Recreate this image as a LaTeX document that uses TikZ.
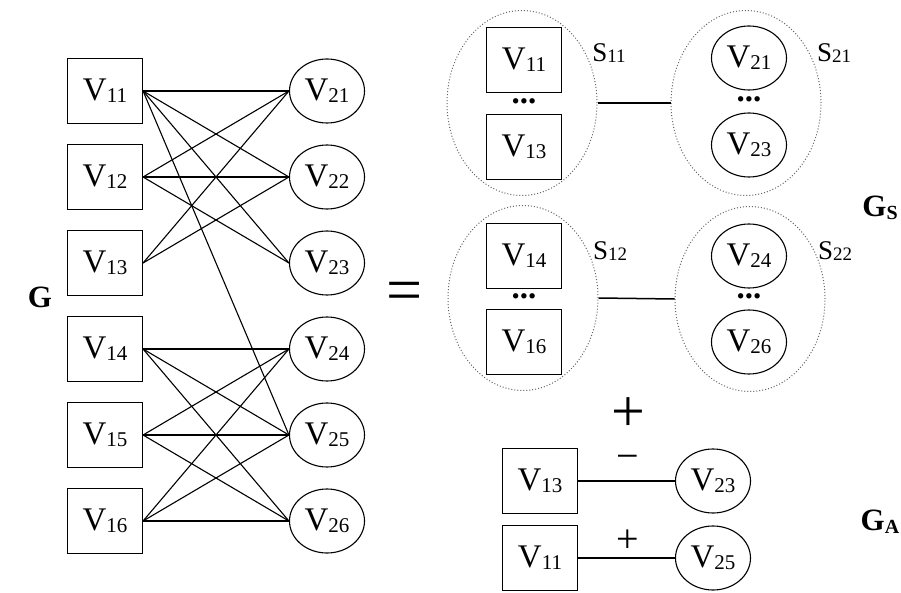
\documentclass[tikz,border=0pt]{standalone}
\usepackage{fontspec}
\setmainfont{Liberation Serif}
\usetikzlibrary{shapes.geometric}
\newcommand{\vsz}{\fontsize{33}{34}\selectfont}
\newcommand{\vl}[2]{#1\raisebox{-2pt}{\fontsize{21}{21}\selectfont #2}}
\newcommand{\slab}[2]{{\fontsize{27}{28}\selectfont #1\raisebox{-1pt}{\fontsize{19}{19}\selectfont #2}}}
\newcommand{\glab}[2]{{\bfseries\fontsize{31}{31}\selectfont #1\raisebox{-3pt}{\fontsize{20}{20}\selectfont #2}}}
\tikzset{
  vbox/.style={draw, rectangle, minimum width=75pt, minimum height=65pt, inner sep=0pt, line width=1.1pt, font=\vsz},
  vell/.style={draw, ellipse, minimum width=75pt, minimum height=64pt, inner sep=0pt, line width=1.1pt, font=\vsz},
  grp/.style={draw=black!60, dotted, ellipse, minimum width=150pt, minimum height=185pt, inner sep=0pt, line width=1pt},
  edge/.style={line width=1.1pt},
  link/.style={line width=1.5pt},
  dotsn/.style={font=\vsz\bfseries, inner sep=0pt},
  sym/.style={inner sep=0pt}
}
\begin{document}
\begin{tikzpicture}[x=1pt,y=-1pt]
\useasboundingbox (0,0) rectangle (901,593);
% left graph
\foreach \i/\y in {1/91,2/177,3/263,4/349,5/435,6/521} {
  \node[vbox] (L\i) at (105,\y) {\vl{V}{1\i}};
  \node[vell] (R\i) at (327,\y) {\vl{V}{2\i}};
}
\foreach \a/\b in {1/1,1/2,1/3,1/5,2/1,2/2,2/3,3/1,3/2,4/4,4/5,4/6,5/4,5/5,5/6,6/4,6/5,6/6}
  \draw[edge] (L\a.east) -- (R\b.west);
\node (G) at (40,299) {\glab{G}{}};
\node[sym, font=\fontsize{64}{64}\selectfont] (eq) at (405,297) {=};
% G_S first row
\node[grp] (S11) at (522,103) {};
\node[vbox] (A11) at (524,60) {\vl{V}{11}};
\node[dotsn] (d1) at (524,101) {...};
\node[vbox] (A13) at (524,147) {\vl{V}{13}};
\node (l11) at (609,53) {\slab{S}{11}};
\node[grp] (S21) at (746,103) {};
\node[vell] (B21) at (749,58) {\vl{V}{21}};
\node[dotsn] (d2) at (749,99) {...};
\node[vell] (B23) at (749,145) {\vl{V}{23}};
\node (l21) at (834,53) {\slab{S}{21}};
\draw[link] (S11.east) -- (S21.west);
% G_S second row
\node[grp] (S12) at (523,298) {};
\node[vbox] (A14) at (524,256) {\vl{V}{14}};
\node[dotsn] (d3) at (524,296) {...};
\node[vbox] (A16) at (524,342) {\vl{V}{16}};
\node (l12) at (610,251) {\slab{S}{12}};
\node[grp] (S22) at (750,299) {};
\node[vell] (B24) at (749,256) {\vl{V}{24}};
\node[dotsn] (d4) at (749,296) {...};
\node[vell] (B26) at (749,342) {\vl{V}{26}};
\node (l22) at (835,251) {\slab{S}{22}};
\draw[link] (S12.east) -- (S22.west);
\node (GS) at (880,208) {\glab{G}{S}};
% plus
\node[sym, font=\fontsize{60}{60}\selectfont] (plus) at (628,415) {+};
% G_A
\node[vbox] (C13) at (540,481) {\vl{V}{13}};
\node[vell] (D23) at (713,481) {\vl{V}{23}};
\draw[edge] (C13.east) -- (D23.west);
\node[sym, font=\fontsize{40}{40}\selectfont] (mn) at (628,462) {−};
\node[vbox] (C11) at (540,558) {\vl{V}{11}};
\node[vell] (D25) at (713,558) {\vl{V}{25}};
\draw[edge] (C11.east) -- (D25.west);
\node[sym, font=\fontsize{40}{40}\selectfont] (pl) at (628,541) {+};
\node (GA) at (880,522) {\glab{G}{A}};
\end{tikzpicture}
\end{document}
